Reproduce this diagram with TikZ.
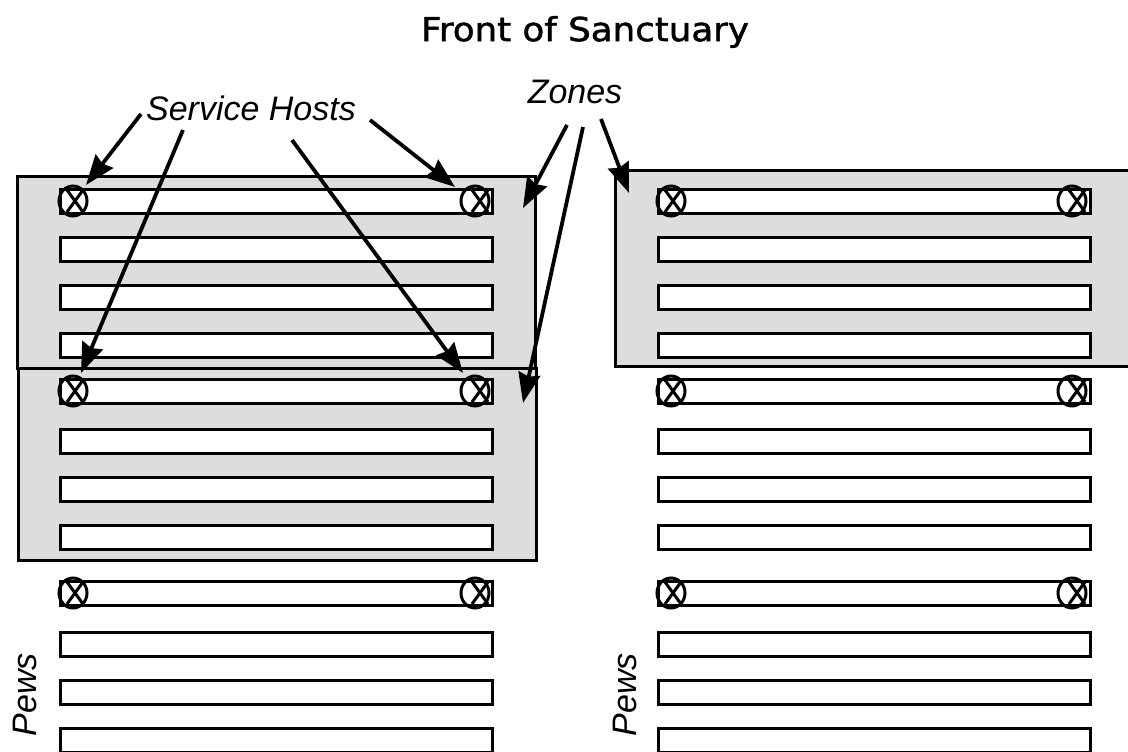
\documentclass[tikz,border=0pt]{standalone}
\usepackage{fontspec}
\setmainfont{Liberation Sans}
\newfontfamily\titlefont[FakeStretch=1.08,FakeBold=1.5]{DejaVu Sans}
\usetikzlibrary{arrows.meta}
\definecolor{zonegray}{gray}{0.867}
\tikzset{
  x=1pt,y=-1pt,
  zone/.style={draw=black,fill=zonegray,line width=3pt,inner sep=0pt,outer sep=0pt,anchor=north west},
  pew/.style={draw=black,fill=white,line width=3pt,inner sep=0pt,outer sep=0pt,anchor=north west,minimum width=432pt,minimum height=24pt},
  host/.style={draw=black,line width=3pt},
  callout/.style={line width=3.8pt,-{Stealth[length=30pt,width=22pt,inset=3pt]}},
  lab/.style={font=\itshape\fontsize{34}{34}\selectfont,inner sep=0pt},
}
\newcommand{\pewbar}[3]{\node[pew] (#1) at (#2,#3) {};}
% name, circle x, y, X offset
\newcommand{\hostmark}[4]{%
  \draw[host] (#2,#3) ellipse [x radius=14,y radius=15];
  \draw[host] (#2+#4-8,#3-11) -- (#2+#4+8,#3+11) (#2+#4+8,#3-11) -- (#2+#4-8,#3+11);
  \coordinate (#1) at (#2,#3);}
\begin{document}
\begin{tikzpicture}
\useasboundingbox (0,0) rectangle (1128,752);
\node[zone,minimum width=518pt,minimum height=192pt] (zoneA) at (17,176) {};
\node[zone,minimum width=518pt,minimum height=192pt] (zoneB) at (18,368) {};
\node[zone,minimum width=520pt,minimum height=196pt] (zoneC) at (615,170) {};
\foreach \n/\y in {1/189,2/237,3/285,4/333,5/379,6/429,7/477,8/525,9/581,10/632,11/680,12/728}{
  \pewbar{L\n}{60}{\y}
  \pewbar{R\n}{658}{\y}
}
\foreach \n/\y in {1/201,5/391,9/593}{
  \hostmark{hL\n}{73}{\y}{2}
  \hostmark{hM\n}{475}{\y}{5}
  \hostmark{hR\n}{671}{\y}{2}
  \hostmark{hS\n}{1072}{\y}{5}
}
\node[font=\titlefont\fontsize{33}{33}\selectfont,inner sep=0pt] (title) at (585,32) {Front of Sanctuary};
\node[lab] (hosts) at (251,108) {Service Hosts};
\node[lab] (zones) at (575,92) {Zones};
\node[lab,rotate=90] (pewsL) at (25,695) {Pews};
\node[lab,rotate=90] (pewsR) at (625,695) {Pews};
\coordinate (a1s) at (141,114); \coordinate (a1e) at (86,185);
\coordinate (a2s) at (183,130); \coordinate (a2e) at (81,373);
\coordinate (a3s) at (370,120); \coordinate (a3e) at (455,187);
\coordinate (a4s) at (292,140); \coordinate (a4e) at (463,373);
\coordinate (z1s) at (567,125); \coordinate (z1e) at (523,208);
\coordinate (z2s) at (583,127); \coordinate (z2e) at (523,403);
\coordinate (z3s) at (601,119); \coordinate (z3e) at (629,193);
\foreach \s/\e in {a1s/a1e,a2s/a2e,a3s/a3e,a4s/a4e,z1s/z1e,z2s/z2e,z3s/z3e}
  \draw[callout] (\s) -- (\e);
\end{tikzpicture}
\end{document}
